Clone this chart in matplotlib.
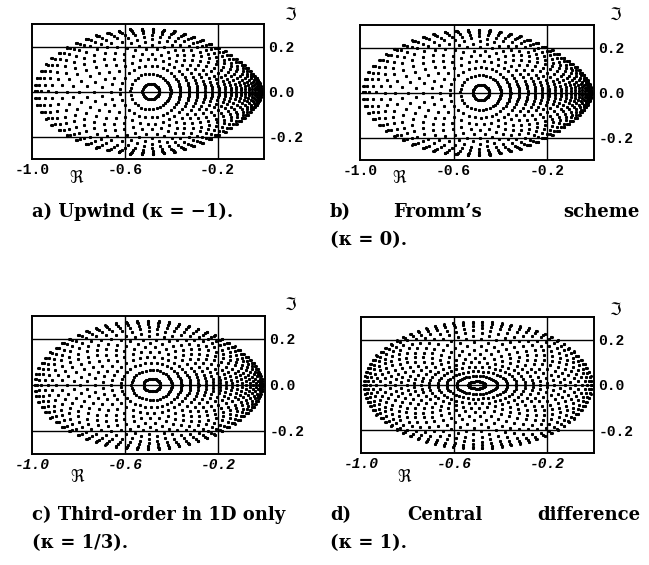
import numpy as np
import matplotlib
matplotlib.use('Agg')
import matplotlib.pyplot as plt

# ---------------- data ----------------
kappa = [-1.0, 0.0, 1.0 / 3.0, 1.0]
n_wave = 41                                   # Fourier modes per direction
wave_index = np.arange(n_wave)
warp_one_sided = [0.55, 0.52, 0.32, 0.00]     # clustering of modes toward the right tip
warp_two_sided = [0.10, 0.10, 0.18, 0.12]     # clustering toward both real-axis ends
tip_taper = [0.28, 0.25, 0.15, 0.0]           # narrowing of the footprint near the right tip
inner_aspect = [1.75, 1.70, 1.40, 0.75]       # vertical stretch of the innermost rings
ring_center = [-0.487, -0.482, -0.484, -0.503]
re_center = -0.5
re_half = 0.49
im_half = 0.28
radial_power = 0.8
xtick_vals = [-1.0, -0.6, -0.2]
xtick_labels = ['-1.0', '-0.6', '-0.2']
ytick_vals = [0.2, 0.0, -0.2]
ytick_labels = ['0.2', '0.0', '-0.2']

W, H = 649, 565
fig = plt.figure(figsize=(W / 100, H / 100), dpi=100)

# axes boxes in pixels: left, top, right, bottom
boxes = [(32, 24, 264, 159), (360, 25, 594, 160),
         (32, 316, 265, 454), (361, 317, 594, 453)]
re_label_pos = [(77, 178), (400, 178), (78, 477), (405, 477)]
im_label_pos = [(290, 15), (615, 15), (290, 305), (615, 310)]
italic_ticks = [False, False, True, True]


def footprint(i):
    theta = 2 * np.pi * wave_index / n_wave
    tx, ty = np.meshgrid(theta, theta)
    f = 0.5 * (np.exp(1j * tx) + np.exp(1j * ty))
    r = np.abs(f) ** radial_power
    ang = np.angle(f)
    e1, e2 = warp_one_sided[i], warp_two_sided[i]
    psi = ang - e1 * np.sin(ang) - 0.5 * e2 * np.sin(2 * ang)
    q = inner_aspect[i]
    stretch = q + (1 - q) * r
    taper = 1 - tip_taper[i] * np.clip(np.cos(psi), 0, None) ** 2 * r
    c = ring_center[i] + (re_center - ring_center[i]) * r
    re = c + re_half * r * np.cos(psi)
    im = im_half * stretch * taper * r * np.sin(psi)
    return re.ravel(), im.ravel()


for i in range(4):
    l, t, rr, b = boxes[i]
    ax = fig.add_axes([l / W, 1 - b / H, (rr - l) / W, (b - t) / H])
    x, y = footprint(i)
    ax.scatter(x, y, s=5.0, c='black', linewidths=0, zorder=3)
    ax.set_xlim(-1.0, 0.0)
    ax.set_ylim(-0.3, 0.3)
    for gx in [-0.6, -0.2]:
        ax.axvline(gx, color='black', lw=1.0, zorder=1)
    for gy in ytick_vals:
        ax.axhline(gy, color='black', lw=1.0, zorder=1)
    for s in ax.spines.values():
        s.set_linewidth(1.4)
    style = 'italic' if italic_ticks[i] else 'normal'
    ax.set_xticks(xtick_vals)
    ax.set_xticklabels(xtick_labels, fontfamily='Liberation Mono',
                       fontweight='bold', fontsize=10.5, fontstyle=style)
    ax.yaxis.tick_right()
    ax.set_yticks(ytick_vals)
    ax.set_yticklabels(ytick_labels, fontfamily='Liberation Mono',
                       fontweight='bold', fontsize=10.5)
    ax.tick_params(length=0, pad=3)
    rx, ry = re_label_pos[i]
    fig.text(rx / W, 1 - ry / H, r'$\Re$', fontsize=12, ha='center', va='center')
    ix, iy = im_label_pos[i]
    fig.text(ix / W, 1 - iy / H, r'$\Im$', fontsize=12, ha='center', va='center')

cap = dict(fontfamily='DejaVu Serif', fontweight='bold', fontsize=13,
           va='center')


def put(x, y, s, ha='left'):
    fig.text(x / W, 1 - y / H, s, ha=ha, **cap)


put(32, 212, 'a) Upwind (κ = −1).')
put(330, 212, 'b)')
put(437, 212, 'Fromm’s', ha='center')
put(640, 212, 'scheme', ha='right')
put(330, 240, '(κ = 0).')
put(32, 515, 'c) Third-order in 1D only')
put(32, 543, '(κ = 1/3).')
put(330, 515, 'd)')
put(445, 515, 'Central', ha='center')
put(640, 515, 'difference', ha='right')
put(330, 543, '(κ = 1).')

fig.savefig('out.png', dpi=100)
